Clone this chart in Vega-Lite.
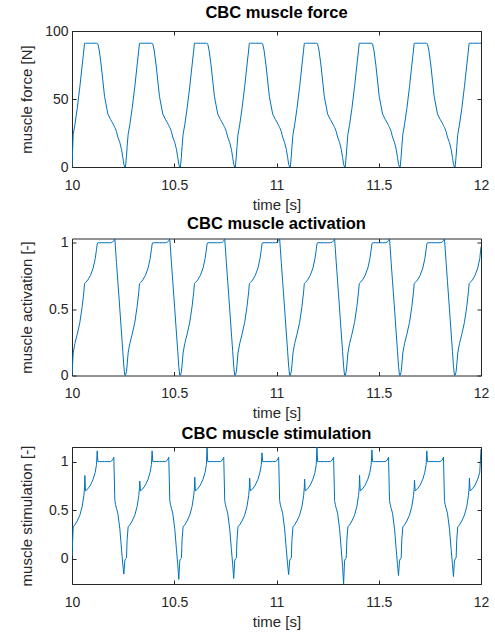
{
  "$schema": "https://vega.github.io/schema/vega-lite/v6.json",
  "background": "white",
  "padding": {"left": 18, "top": 4, "right": 5, "bottom": 5},
  "bounds": "flush",
  "spacing": 71.5,
  "config": {
    "font": "Liberation Sans",
    "view": {"stroke": null},
    "axis": {
      "labelFont": "Liberation Sans", "titleFont": "Liberation Sans",
      "labelFontSize": 14, "titleFontSize": 15, "titleFontWeight": "normal",
      "labelColor": "#262626", "titleColor": "#262626",
      "domainColor": "#262626", "tickColor": "#262626",
      "tickSize": -4, "grid": false, "labelFlush": false, "labelOverlap": false,
      "labelExpr": "'' + datum.value"
    },
    "axisX": {"labelPadding": 15},
    "axisY": {"labelPadding": 8},
    "title": {"font": "Liberation Sans", "fontSize": 16.5, "fontWeight": "bold", "color": "#000000", "offset": 3, "anchor": "middle"}
  },
  "data": {"values": [
    {"t":10,"f":0,"a":0,"s":0.03},
    {"t":10.0059,"f":24,"a":0.17,"s":0.33},
    {"t":10.0141,"f":31,"a":0.24,"s":0.35},
    {"t":10.0255,"f":43,"a":0.31,"s":0.39},
    {"t":10.0385,"f":59,"a":0.4,"s":0.45},
    {"t":10.0499,"f":75,"a":0.52,"s":0.54},
    {"t":10.058,"f":86,"a":0.63,"s":0.65},
    {"t":10.0613,"f":91,"a":0.69,"s":0.73},
    {"t":10.0629,"f":91,"a":0.695,"s":0.857},
    {"t":10.0662,"f":91,"a":0.7,"s":0.7},
    {"t":10.0776,"f":91,"a":0.72,"s":0.72},
    {"t":10.0906,"f":91,"a":0.755,"s":0.76},
    {"t":10.1036,"f":91,"a":0.81,"s":0.82},
    {"t":10.1134,"f":91,"a":0.88,"s":0.89},
    {"t":10.1199,"f":91,"a":0.95,"s":0.97},
    {"t":10.1232,"f":91,"a":0.99,"s":1.11},
    {"t":10.1264,"f":90.5,"a":1,"s":1},
    {"t":10.133,"f":86,"a":1,"s":1},
    {"t":10.1427,"f":75,"a":1,"s":1},
    {"t":10.159,"f":52,"a":1,"s":1},
    {"t":10.1753,"f":39,"a":1,"s":1},
    {"t":10.1883,"f":35,"a":1,"s":1},
    {"t":10.1981,"f":32.5,"a":1.005,"s":1.015},
    {"t":10.2046,"f":30.5,"a":1.015,"s":1.045},
    {"t":10.2095,"f":29,"a":1.03,"s":0.6},
    {"t":10.2127,"f":28,"a":0.96,"s":0.56},
    {"t":10.2176,"f":26,"a":0.85,"s":0.52},
    {"t":10.2241,"f":22,"a":0.71,"s":0.47},
    {"t":10.2339,"f":18,"a":0.5,"s":0.31},
    {"t":10.2421,"f":13,"a":0.32,"s":0.1},
    {"t":10.2486,"f":7,"a":0.18,"s":-0.06},
    {"t":10.2535,"f":2,"a":0.07,"s":-0.155},
    {"t":10.2583,"f":0,"a":0,"s":-0.02},

    {"t":10.2615,"f":0,"a":0,"s":0},
    {"t":10.2664,"f":8,"a":0.03,"s":0.01},
    {"t":10.2696,"f":15,"a":0.08,"s":0.2},
    {"t":10.2745,"f":24,"a":0.17,"s":0.33},
    {"t":10.2827,"f":31,"a":0.24,"s":0.35},
    {"t":10.2941,"f":43,"a":0.31,"s":0.39},
    {"t":10.3071,"f":59,"a":0.4,"s":0.45},
    {"t":10.3185,"f":75,"a":0.52,"s":0.54},
    {"t":10.3266,"f":86,"a":0.63,"s":0.65},
    {"t":10.3299,"f":91,"a":0.69,"s":0.73},
    {"t":10.3315,"f":91,"a":0.695,"s":0.8},
    {"t":10.3348,"f":91,"a":0.7,"s":0.7},
    {"t":10.3462,"f":91,"a":0.72,"s":0.72},
    {"t":10.3592,"f":91,"a":0.755,"s":0.76},
    {"t":10.3722,"f":91,"a":0.81,"s":0.82},
    {"t":10.382,"f":91,"a":0.88,"s":0.89},
    {"t":10.3885,"f":91,"a":0.95,"s":0.97},
    {"t":10.3918,"f":91,"a":0.99,"s":1.11},
    {"t":10.395,"f":90.5,"a":1,"s":1},
    {"t":10.4016,"f":86,"a":1,"s":1},
    {"t":10.4113,"f":75,"a":1,"s":1},
    {"t":10.4276,"f":52,"a":1,"s":1},
    {"t":10.4439,"f":39,"a":1,"s":1},
    {"t":10.4569,"f":35,"a":1,"s":1},
    {"t":10.4667,"f":32.5,"a":1.005,"s":1.015},
    {"t":10.4732,"f":30.5,"a":1.015,"s":1.045},
    {"t":10.4781,"f":29,"a":1.03,"s":0.6},
    {"t":10.4813,"f":28,"a":0.96,"s":0.56},
    {"t":10.4862,"f":26,"a":0.85,"s":0.52},
    {"t":10.4927,"f":22,"a":0.71,"s":0.47},
    {"t":10.5025,"f":18,"a":0.5,"s":0.31},
    {"t":10.5107,"f":13,"a":0.32,"s":0.1},
    {"t":10.5172,"f":7,"a":0.18,"s":-0.06},
    {"t":10.5221,"f":2,"a":0.07,"s":-0.21},
    {"t":10.5269,"f":0,"a":0,"s":-0.02},

    {"t":10.5302,"f":0,"a":0,"s":0},
    {"t":10.5351,"f":8,"a":0.03,"s":0.01},
    {"t":10.5383,"f":15,"a":0.08,"s":0.2},
    {"t":10.5432,"f":24,"a":0.17,"s":0.33},
    {"t":10.5514,"f":31,"a":0.24,"s":0.35},
    {"t":10.5628,"f":43,"a":0.31,"s":0.39},
    {"t":10.5758,"f":59,"a":0.4,"s":0.45},
    {"t":10.5872,"f":75,"a":0.52,"s":0.54},
    {"t":10.5953,"f":86,"a":0.63,"s":0.65},
    {"t":10.5986,"f":91,"a":0.69,"s":0.73},
    {"t":10.6002,"f":91,"a":0.695,"s":0.84},
    {"t":10.6035,"f":91,"a":0.7,"s":0.7},
    {"t":10.6149,"f":91,"a":0.72,"s":0.72},
    {"t":10.6279,"f":91,"a":0.755,"s":0.76},
    {"t":10.6409,"f":91,"a":0.81,"s":0.82},
    {"t":10.6507,"f":91,"a":0.88,"s":0.89},
    {"t":10.6572,"f":91,"a":0.95,"s":0.97},
    {"t":10.6605,"f":91,"a":0.99,"s":1.14},
    {"t":10.6637,"f":90.5,"a":1,"s":1},
    {"t":10.6703,"f":86,"a":1,"s":1},
    {"t":10.68,"f":75,"a":1,"s":1},
    {"t":10.6963,"f":52,"a":1,"s":1},
    {"t":10.7126,"f":39,"a":1,"s":1},
    {"t":10.7256,"f":35,"a":1,"s":1},
    {"t":10.7354,"f":32.5,"a":1.005,"s":1.015},
    {"t":10.7419,"f":30.5,"a":1.015,"s":1.045},
    {"t":10.7468,"f":29,"a":1.03,"s":0.6},
    {"t":10.75,"f":28,"a":0.96,"s":0.56},
    {"t":10.7549,"f":26,"a":0.85,"s":0.52},
    {"t":10.7614,"f":22,"a":0.71,"s":0.47},
    {"t":10.7712,"f":18,"a":0.5,"s":0.31},
    {"t":10.7794,"f":13,"a":0.32,"s":0.1},
    {"t":10.7859,"f":7,"a":0.18,"s":-0.06},
    {"t":10.7908,"f":2,"a":0.07,"s":-0.2},
    {"t":10.7956,"f":0,"a":0,"s":-0.02},

    {"t":10.7988,"f":0,"a":0,"s":0},
    {"t":10.8037,"f":8,"a":0.03,"s":0.01},
    {"t":10.8069,"f":15,"a":0.08,"s":0.2},
    {"t":10.8118,"f":24,"a":0.17,"s":0.33},
    {"t":10.82,"f":31,"a":0.24,"s":0.35},
    {"t":10.8314,"f":43,"a":0.31,"s":0.39},
    {"t":10.8444,"f":59,"a":0.4,"s":0.45},
    {"t":10.8558,"f":75,"a":0.52,"s":0.54},
    {"t":10.8639,"f":86,"a":0.63,"s":0.65},
    {"t":10.8672,"f":91,"a":0.69,"s":0.73},
    {"t":10.8688,"f":91,"a":0.695,"s":0.83},
    {"t":10.8721,"f":91,"a":0.7,"s":0.7},
    {"t":10.8835,"f":91,"a":0.72,"s":0.72},
    {"t":10.8965,"f":91,"a":0.755,"s":0.76},
    {"t":10.9095,"f":91,"a":0.81,"s":0.82},
    {"t":10.9193,"f":91,"a":0.88,"s":0.89},
    {"t":10.9258,"f":91,"a":0.95,"s":0.97},
    {"t":10.9291,"f":91,"a":0.99,"s":1.09},
    {"t":10.9323,"f":90.5,"a":1,"s":1},
    {"t":10.9389,"f":86,"a":1,"s":1},
    {"t":10.9486,"f":75,"a":1,"s":1},
    {"t":10.9649,"f":52,"a":1,"s":1},
    {"t":10.9812,"f":39,"a":1,"s":1},
    {"t":10.9942,"f":35,"a":1,"s":1},
    {"t":11.004,"f":32.5,"a":1.005,"s":1.015},
    {"t":11.0105,"f":30.5,"a":1.015,"s":1.045},
    {"t":11.0154,"f":29,"a":1.03,"s":0.6},
    {"t":11.0186,"f":28,"a":0.96,"s":0.56},
    {"t":11.0235,"f":26,"a":0.85,"s":0.52},
    {"t":11.03,"f":22,"a":0.71,"s":0.47},
    {"t":11.0398,"f":18,"a":0.5,"s":0.31},
    {"t":11.048,"f":13,"a":0.32,"s":0.1},
    {"t":11.0545,"f":7,"a":0.18,"s":-0.06},
    {"t":11.0594,"f":2,"a":0.07,"s":-0.16},
    {"t":11.0642,"f":0,"a":0,"s":-0.02},

    {"t":11.0675,"f":0,"a":0,"s":0},
    {"t":11.0724,"f":8,"a":0.03,"s":0.01},
    {"t":11.0756,"f":15,"a":0.08,"s":0.2},
    {"t":11.0805,"f":24,"a":0.17,"s":0.33},
    {"t":11.0887,"f":31,"a":0.24,"s":0.35},
    {"t":11.1001,"f":43,"a":0.31,"s":0.39},
    {"t":11.1131,"f":59,"a":0.4,"s":0.45},
    {"t":11.1245,"f":75,"a":0.52,"s":0.54},
    {"t":11.1326,"f":86,"a":0.63,"s":0.65},
    {"t":11.1359,"f":91,"a":0.69,"s":0.73},
    {"t":11.1375,"f":91,"a":0.695,"s":0.82},
    {"t":11.1408,"f":91,"a":0.7,"s":0.7},
    {"t":11.1522,"f":91,"a":0.72,"s":0.72},
    {"t":11.1652,"f":91,"a":0.755,"s":0.76},
    {"t":11.1782,"f":91,"a":0.81,"s":0.82},
    {"t":11.188,"f":91,"a":0.88,"s":0.89},
    {"t":11.1945,"f":91,"a":0.95,"s":0.97},
    {"t":11.1978,"f":91,"a":0.99,"s":1.15},
    {"t":11.201,"f":90.5,"a":1,"s":1},
    {"t":11.2076,"f":86,"a":1,"s":1},
    {"t":11.2173,"f":75,"a":1,"s":1},
    {"t":11.2336,"f":52,"a":1,"s":1},
    {"t":11.2499,"f":39,"a":1,"s":1},
    {"t":11.2629,"f":35,"a":1,"s":1},
    {"t":11.2727,"f":32.5,"a":1.005,"s":1.015},
    {"t":11.2792,"f":30.5,"a":1.015,"s":1.045},
    {"t":11.2841,"f":29,"a":1.03,"s":0.6},
    {"t":11.2873,"f":28,"a":0.96,"s":0.56},
    {"t":11.2922,"f":26,"a":0.85,"s":0.52},
    {"t":11.2987,"f":22,"a":0.71,"s":0.47},
    {"t":11.3085,"f":18,"a":0.5,"s":0.31},
    {"t":11.3167,"f":13,"a":0.32,"s":0.1},
    {"t":11.3232,"f":7,"a":0.18,"s":-0.08},
    {"t":11.3281,"f":2,"a":0.07,"s":-0.255},
    {"t":11.3329,"f":0,"a":0,"s":-0.02},

    {"t":11.3361,"f":0,"a":0,"s":0},
    {"t":11.341,"f":8,"a":0.03,"s":0.01},
    {"t":11.3442,"f":15,"a":0.08,"s":0.2},
    {"t":11.3491,"f":24,"a":0.17,"s":0.33},
    {"t":11.3573,"f":31,"a":0.24,"s":0.35},
    {"t":11.3687,"f":43,"a":0.31,"s":0.39},
    {"t":11.3817,"f":59,"a":0.4,"s":0.45},
    {"t":11.3931,"f":75,"a":0.52,"s":0.54},
    {"t":11.4012,"f":86,"a":0.63,"s":0.65},
    {"t":11.4045,"f":91,"a":0.69,"s":0.73},
    {"t":11.4061,"f":91,"a":0.695,"s":0.86},
    {"t":11.4094,"f":91,"a":0.7,"s":0.7},
    {"t":11.4208,"f":91,"a":0.72,"s":0.72},
    {"t":11.4338,"f":91,"a":0.755,"s":0.76},
    {"t":11.4468,"f":91,"a":0.81,"s":0.82},
    {"t":11.4566,"f":91,"a":0.88,"s":0.89},
    {"t":11.4631,"f":91,"a":0.95,"s":0.97},
    {"t":11.4664,"f":91,"a":0.99,"s":1.12},
    {"t":11.4696,"f":90.5,"a":1,"s":1},
    {"t":11.4762,"f":86,"a":1,"s":1},
    {"t":11.4859,"f":75,"a":1,"s":1},
    {"t":11.5022,"f":52,"a":1,"s":1},
    {"t":11.5185,"f":39,"a":1,"s":1},
    {"t":11.5315,"f":35,"a":1,"s":1},
    {"t":11.5413,"f":32.5,"a":1.005,"s":1.015},
    {"t":11.5478,"f":30.5,"a":1.015,"s":1.045},
    {"t":11.5527,"f":29,"a":1.03,"s":0.6},
    {"t":11.5559,"f":28,"a":0.96,"s":0.56},
    {"t":11.5608,"f":26,"a":0.85,"s":0.52},
    {"t":11.5673,"f":22,"a":0.71,"s":0.47},
    {"t":11.5771,"f":18,"a":0.5,"s":0.31},
    {"t":11.5853,"f":13,"a":0.32,"s":0.1},
    {"t":11.5918,"f":7,"a":0.18,"s":-0.06},
    {"t":11.5967,"f":2,"a":0.07,"s":-0.17},
    {"t":11.6015,"f":0,"a":0,"s":-0.02},

    {"t":11.6048,"f":0,"a":0,"s":0},
    {"t":11.6097,"f":8,"a":0.03,"s":0.01},
    {"t":11.6129,"f":15,"a":0.08,"s":0.2},
    {"t":11.6178,"f":24,"a":0.17,"s":0.33},
    {"t":11.626,"f":31,"a":0.24,"s":0.35},
    {"t":11.6374,"f":43,"a":0.31,"s":0.39},
    {"t":11.6504,"f":59,"a":0.4,"s":0.45},
    {"t":11.6618,"f":75,"a":0.52,"s":0.54},
    {"t":11.6699,"f":86,"a":0.63,"s":0.65},
    {"t":11.6732,"f":91,"a":0.69,"s":0.73},
    {"t":11.6748,"f":91,"a":0.695,"s":0.81},
    {"t":11.6781,"f":91,"a":0.7,"s":0.7},
    {"t":11.6895,"f":91,"a":0.72,"s":0.72},
    {"t":11.7025,"f":91,"a":0.755,"s":0.76},
    {"t":11.7155,"f":91,"a":0.81,"s":0.82},
    {"t":11.7253,"f":91,"a":0.88,"s":0.89},
    {"t":11.7318,"f":91,"a":0.95,"s":0.97},
    {"t":11.7351,"f":91,"a":0.99,"s":1.11},
    {"t":11.7383,"f":90.5,"a":1,"s":1},
    {"t":11.7449,"f":86,"a":1,"s":1},
    {"t":11.7546,"f":75,"a":1,"s":1},
    {"t":11.7709,"f":52,"a":1,"s":1},
    {"t":11.7872,"f":39,"a":1,"s":1},
    {"t":11.8002,"f":35,"a":1,"s":1},
    {"t":11.81,"f":32.5,"a":1.005,"s":1.015},
    {"t":11.8165,"f":30.5,"a":1.015,"s":1.045},
    {"t":11.8214,"f":29,"a":1.03,"s":0.6},
    {"t":11.8246,"f":28,"a":0.96,"s":0.56},
    {"t":11.8295,"f":26,"a":0.85,"s":0.52},
    {"t":11.836,"f":22,"a":0.71,"s":0.47},
    {"t":11.8458,"f":18,"a":0.5,"s":0.31},
    {"t":11.854,"f":13,"a":0.32,"s":0.1},
    {"t":11.8605,"f":7,"a":0.18,"s":-0.06},
    {"t":11.8654,"f":2,"a":0.07,"s":-0.18},
    {"t":11.8702,"f":0,"a":0,"s":-0.02},

    {"t":11.8734,"f":0,"a":0,"s":0},
    {"t":11.8783,"f":8,"a":0.03,"s":0.01},
    {"t":11.8815,"f":15,"a":0.08,"s":0.2},
    {"t":11.8864,"f":24,"a":0.17,"s":0.33},
    {"t":11.8946,"f":31,"a":0.24,"s":0.35},
    {"t":11.906,"f":43,"a":0.31,"s":0.39},
    {"t":11.919,"f":59,"a":0.4,"s":0.45},
    {"t":11.9304,"f":75,"a":0.52,"s":0.54},
    {"t":11.9385,"f":86,"a":0.63,"s":0.65},
    {"t":11.9418,"f":91,"a":0.69,"s":0.73},
    {"t":11.9434,"f":91,"a":0.695,"s":0.83},
    {"t":11.9467,"f":91,"a":0.7,"s":0.7},
    {"t":11.9581,"f":91,"a":0.72,"s":0.72},
    {"t":11.9711,"f":91,"a":0.755,"s":0.76},
    {"t":11.9841,"f":91,"a":0.81,"s":0.82},
    {"t":11.9939,"f":91,"a":0.88,"s":0.89},
    {"t":12,"f":91,"a":0.97,"s":1.13}
  ]},
  "vconcat": [
    {
      "width": 409, "height": 136,
      "title": {"text": "CBC muscle force"},
      "layer": [
        {
          "mark": {"type": "line", "color": "#0072BD", "strokeWidth": 1, "clip": true},
          "encoding": {
            "x": {"field": "t", "type": "quantitative", "scale": {"domain": [10, 12], "nice": false, "zero": false},
                  "axis": {"values": [10, 10.5, 11, 11.5, 12], "title": "time [s]", "titleY": 30}},
            "y": {"field": "f", "type": "quantitative", "scale": {"domain": [0, 100], "nice": false},
                  "axis": {"values": [0, 50, 100], "title": "muscle force [N]", "titleX": -38, "titleY": 68}}
          }
        },
        {
          "mark": {"type": "line", "opacity": 0, "clip": true},
          "encoding": {
            "x": {"field": "t", "type": "quantitative", "axis": {"orient": "top", "values": [10, 10.5, 11, 11.5, 12], "labels": false, "title": null}},
            "y": {"field": "f", "type": "quantitative", "axis": {"orient": "right", "values": [0, 50, 100], "labels": false, "title": null}}
          }
        }
      ],
      "resolve": {"axis": {"x": "independent", "y": "independent"}}
    },
    {
      "width": 409, "height": 137,
      "title": {"text": "CBC muscle activation"},
      "layer": [
        {
          "mark": {"type": "line", "color": "#0072BD", "strokeWidth": 1, "clip": true},
          "encoding": {
            "x": {"field": "t", "type": "quantitative", "scale": {"domain": [10, 12], "nice": false, "zero": false},
                  "axis": {"values": [10, 10.5, 11, 11.5, 12], "title": "time [s]", "titleY": 30}},
            "y": {"field": "a", "type": "quantitative", "scale": {"domain": [0, 1.032], "nice": false},
                  "axis": {"values": [0, 0.5, 1], "title": "muscle activation [-]", "titleX": -38, "titleY": 68.5}}
          }
        },
        {
          "mark": {"type": "line", "opacity": 0, "clip": true},
          "encoding": {
            "x": {"field": "t", "type": "quantitative", "axis": {"orient": "top", "values": [10, 10.5, 11, 11.5, 12], "labels": false, "title": null}},
            "y": {"field": "a", "type": "quantitative", "axis": {"orient": "right", "values": [0, 0.5, 1], "labels": false, "title": null}}
          }
        }
      ],
      "resolve": {"axis": {"x": "independent", "y": "independent"}}
    },
    {
      "width": 409, "height": 137,
      "title": {"text": "CBC muscle stimulation"},
      "layer": [
        {
          "mark": {"type": "line", "color": "#0072BD", "strokeWidth": 1, "clip": true},
          "encoding": {
            "x": {"field": "t", "type": "quantitative", "scale": {"domain": [10, 12], "nice": false, "zero": false},
                  "axis": {"values": [10, 10.5, 11, 11.5, 12], "title": "time [s]", "titleY": 30}},
            "y": {"field": "s", "type": "quantitative", "scale": {"domain": [-0.257, 1.15], "nice": false, "zero": false},
                  "axis": {"values": [0, 0.5, 1], "title": "muscle stimulation [-]", "titleX": -38, "titleY": 68.5}}
          }
        },
        {
          "mark": {"type": "line", "opacity": 0, "clip": true},
          "encoding": {
            "x": {"field": "t", "type": "quantitative", "axis": {"orient": "top", "values": [10, 10.5, 11, 11.5, 12], "labels": false, "title": null}},
            "y": {"field": "s", "type": "quantitative", "axis": {"orient": "right", "values": [0, 0.5, 1], "labels": false, "title": null}}
          }
        }
      ],
      "resolve": {"axis": {"x": "independent", "y": "independent"}}
    }
  ]
}
